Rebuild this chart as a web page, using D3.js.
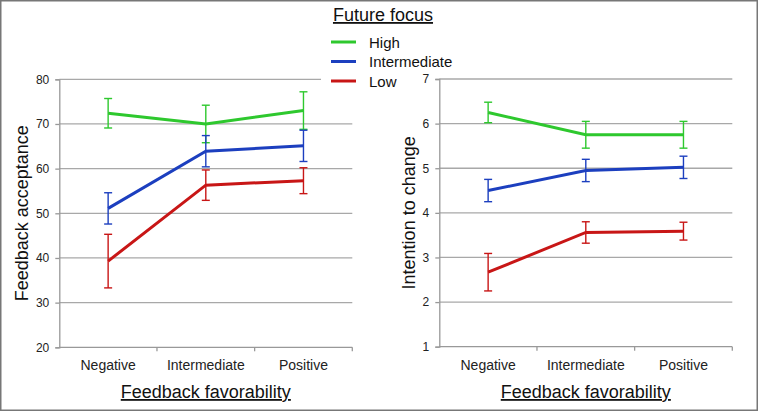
<!DOCTYPE html>
<html><head><meta charset="utf-8">
<script src="https://cdn.jsdelivr.net/npm/d3@7/dist/d3.min.js"></script>
<style>body{margin:0;background:#fff}svg{display:block;font-family:"Liberation Sans",Arial,sans-serif}</style>
</head><body><svg id="c" width="758" height="412"></svg>
<script>
const categories = ["Negative", "Intermediate", "Positive"];
const seriesNames = ["High", "Intermediate", "Low"];
const seriesColors = ["#2ec82e", "#1c3fbf", "#c81616"];
// Feedback acceptance
const accHigh = [72.4, 70.0, 73.0];
const accHighErr = [3.3, 4.2, 4.2];
const accInter = [51.1, 63.9, 65.1];
const accInterErr = [3.5, 3.5, 3.5];
const accLow = [39.3, 56.3, 57.3];
const accLowErr = [6.0, 3.4, 2.9];
const accTicks = [20, 30, 40, 50, 60, 70, 80];
// Intention to change
const intHigh = [6.25, 5.75, 5.75];
const intHighErr = [0.23, 0.30, 0.30];
const intInter = [4.50, 4.95, 5.02];
const intInterErr = [0.25, 0.25, 0.25];
const intLow = [2.67, 3.56, 3.59];
const intLowErr = [0.42, 0.24, 0.20];
const intTicks = [1, 2, 3, 4, 5, 6, 7];

const svg = d3.select("#c");
svg.append("rect").attr("x", 0.75).attr("y", 0.75).attr("width", 756.5).attr("height", 409.5)
  .attr("fill", "#fff").attr("stroke", "#777").attr("stroke-width", 1.5);

function panel(opt) {
  const x = d3.scaleBand().domain(categories).range([opt.x0, opt.x1]);
  const y = d3.scaleLinear().domain(opt.domain).range([opt.y1, opt.y0]);
  const g = svg.append("g");
  // gridlines
  g.selectAll(".grid").data(opt.ticks.slice(1)).join("line")
    .attr("x1", opt.x0).attr("x2", opt.x1)
    .attr("y1", d => y(d)).attr("y2", d => y(d))
    .attr("stroke", "#a8a8a8").attr("stroke-width", 1.3);
  // y axis
  const ya = g.append("g").attr("transform", `translate(${opt.x0},0)`)
    .call(d3.axisLeft(y).tickValues(opt.ticks).tickFormat(d3.format("d")).tickSize(4).tickPadding(6));
  ya.select(".domain").attr("stroke", "#999").attr("stroke-width", 1.3);
  ya.selectAll(".tick line").attr("stroke", "#999").attr("stroke-width", 1.3);
  ya.selectAll("text").attr("font-size", 12).attr("fill", "#222").attr("font-family", "Liberation Sans, Arial, sans-serif");
  // x axis
  const xa = g.append("g").attr("transform", `translate(0,${opt.y1})`)
    .call(d3.axisBottom(x).tickSize(0).tickPadding(13));
  xa.select(".domain").remove();
  xa.append("line").attr("x1", opt.x0).attr("x2", opt.x1).attr("stroke", "#999").attr("stroke-width", 1.3);
  const bounds = [opt.x0].concat(categories.map(c => x(c) + x.bandwidth()));
  xa.selectAll(".bt").data(bounds.slice(1)).join("line")
    .attr("x1", d => d).attr("x2", d => d).attr("y1", 0).attr("y2", 4)
    .attr("stroke", "#999").attr("stroke-width", 1.3);
  xa.selectAll(".tick text").attr("font-size", 14).attr("fill", "#222").attr("font-family", "Liberation Sans, Arial, sans-serif");
  // series
  const line = d3.line().x((d, i) => x(categories[i]) + x.bandwidth() / 2).y(d => y(d));
  opt.series.forEach((s, si) => {
    const col = seriesColors[si];
    s.vals.forEach((v, i) => {
      const cx = x(categories[i]) + x.bandwidth() / 2;
      const lo = y(v - s.err[i]), hi = y(v + s.err[i]);
      g.append("line").attr("x1", cx).attr("x2", cx).attr("y1", lo).attr("y2", hi).attr("stroke", col).attr("stroke-width", 1.4);
      [lo, hi].forEach(yy => g.append("line").attr("x1", cx - 4).attr("x2", cx + 4).attr("y1", yy).attr("y2", yy).attr("stroke", col).attr("stroke-width", 1.4));
    });
    g.append("path").datum(s.vals).attr("d", line).attr("fill", "none").attr("stroke", col).attr("stroke-width", 3);
  });
  // titles
  svg.append("text").attr("transform", `translate(${opt.ytx},${(opt.y0 + opt.y1) / 2}) rotate(-90)`)
    .attr("text-anchor", "middle").attr("dominant-baseline", "central").attr("font-size", 18).attr("fill", "#111")
    .text(opt.ytitle);
  svg.append("text").attr("x", (opt.x0 + opt.x1) / 2).attr("y", 398)
    .attr("text-anchor", "middle").attr("font-size", 18).attr("fill", "#111")
    .attr("text-decoration", "underline").text("Feedback favorability");
}

panel({x0: 59.3, x1: 352.3, y0: 79.3, y1: 347.3, domain: [20, 80], ticks: accTicks, ytx: 22, ytitle: "Feedback acceptance",
  series: [{vals: accHigh, err: accHighErr}, {vals: accInter, err: accInterErr}, {vals: accLow, err: accLowErr}]});

// legend background (covers left panel's top gridline end)
svg.append("rect").attr("x", 321).attr("y", 2).attr("width", 98).attr("height", 90).attr("fill", "#fff");

panel({x0: 439.3, x1: 732.3, y0: 79, y1: 346.7, domain: [1, 7], ticks: intTicks, ytx: 409, ytitle: "Intention to change",
  series: [{vals: intHigh, err: intHighErr}, {vals: intInter, err: intInterErr}, {vals: intLow, err: intLowErr}]});

// legend
const lg = svg.append("g");
lg.append("text").attr("x", 383).attr("y", 21).attr("text-anchor", "middle").attr("font-size", 18).attr("fill", "#111")
  .attr("text-decoration", "underline").text("Future focus");
const ly = [42, 61.5, 81];
seriesNames.forEach((n, i) => {
  lg.append("line").attr("x1", 331).attr("x2", 356).attr("y1", ly[i]).attr("y2", ly[i]).attr("stroke", seriesColors[i]).attr("stroke-width", 3);
  lg.append("text").attr("x", 369).attr("y", ly[i]).attr("dominant-baseline", "central").attr("font-size", 15).attr("fill", "#111").text(n);
});
</script></body></html>
